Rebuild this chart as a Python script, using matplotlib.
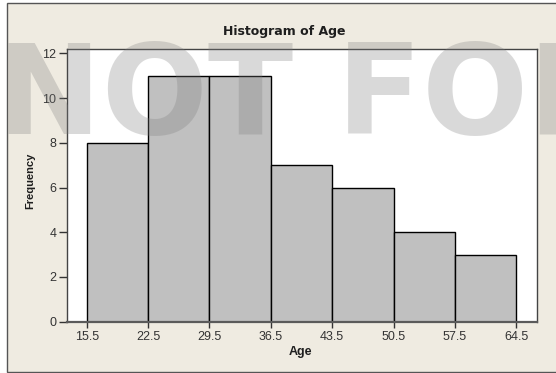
import matplotlib
matplotlib.use("Agg")
from matplotlib import pyplot as plt
from matplotlib.patches import Rectangle
import numpy as np

# age histogram: bin edges and counts per bin
bin_edges = [15.5, 22.5, 29.5, 36.5, 43.5, 50.5, 57.5, 64.5]
frequencies = [8, 11, 11, 7, 6, 4, 3]
y_ticks = [0, 2, 4, 6, 8, 10, 12]

W, H = 556, 373
BG = "#efebe1"
TEXT = "#1e1e1e"

plt.rcParams["font.family"] = "DejaVu Sans"

fig = plt.figure(figsize=(W / 100, H / 100), dpi=100)
fig.patch.set_facecolor("white")

# beige panel with dark outline, running off the right edge
fig.patches.append(Rectangle((6.5 / W, 1.3 / H), 1.1, 368.7 / H,
                             transform=fig.transFigure, facecolor=BG,
                             edgecolor="#555555", linewidth=1.0, zorder=-10))

ax = fig.add_axes([66.7 / W, 1 - 321.7 / H, 470 / W, 272.7 / H])
ax.set_facecolor("white")

edges = np.array(bin_edges)
ax.bar(edges[:-1], frequencies, width=np.diff(edges), align="edge",
       color="#c0c0c0", edgecolor="black", linewidth=1.0, zorder=2)

ax.set_xlim(13.22, 66.83)
ax.set_ylim(0, 12.2)
ax.set_xticks(bin_edges)
ax.set_xticklabels([f"{e:.1f}" for e in bin_edges])
ax.set_yticks(y_ticks)

for side in ["left", "top", "right"]:
    ax.spines[side].set_color("#444444")
    ax.spines[side].set_linewidth(1.0)
ax.spines["bottom"].set_color("#5a5a5a")
ax.spines["bottom"].set_linewidth(1.6)

ax.tick_params(direction="out", width=1, color="#333333",
               labelsize=9, labelcolor="#333333")
ax.tick_params(axis="y", length=6, pad=1.5)
ax.tick_params(axis="x", length=4, pad=2.5)
for lbl in ax.get_xticklabels() + ax.get_yticklabels():
    lbl.set_fontfamily("Liberation Sans")

fig.text(284 / W, 1 - 31 / H, "Histogram of Age", ha="center", va="center",
         fontsize=9, fontweight="bold", color=TEXT)
fig.text(300 / W, 1 - 352 / H, "Age", ha="center", va="center",
         fontsize=9, fontweight="bold", color=TEXT, family="Liberation Sans")
fig.text(30 / W, 1 - 180.5 / H, "Frequency", ha="center", va="center",
         rotation=90, fontsize=8, fontweight="bold", color=TEXT,
         family="Liberation Sans")

# large translucent stamp across the chart
fig.text(-3 / W, 1 - 134 / H, "NOT FOR SALE", ha="left", va="baseline",
         fontsize=90, fontweight="bold", color="#7e7e7e", alpha=0.29,
         zorder=5)

fig.savefig("out.png", dpi=100, facecolor=fig.get_facecolor())
